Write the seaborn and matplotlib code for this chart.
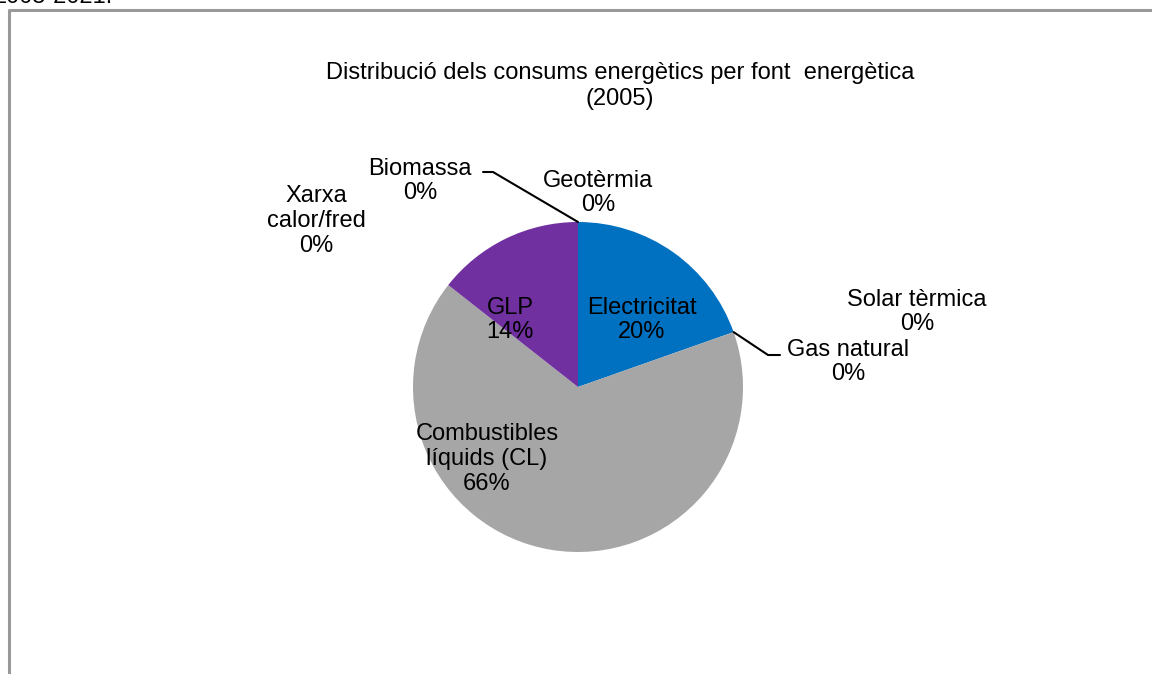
import matplotlib
matplotlib.use("Agg")
import matplotlib.pyplot as plt
import seaborn as sns
import numpy as np

# dades del gràfic (percentatges de consum per font, 2005)
fonts = ["Electricitat", "Gas natural", "Solar tèrmica", "Combustibles\nlíquids (CL)",
         "GLP", "Xarxa\ncalor/fred", "Biomassa", "Geotèrmia"]
valors = [19.6, 0.0, 0.0, 66.0, 14.4, 0.0, 0.0, 0.0]
colors = ["#0070C0", "#C0504D", "#9BBB59", "#A6A6A6", "#7030A0", "#4BACC6", "#F79646", "#2C4D75"]
titol = "Distribució dels consums energètics per font  energètica\n(2005)"
text_superior = "2005-2021."

# posicions de les etiquetes (px, origen a dalt a l'esquerra)
pos_etiquetes = [(642, 320), (848, 362), (917, 312), (487, 459),
                 (510, 320), (316, 221), (420, 181), (598, 193)]

W, H = 1152, 674
cx, cy, r = 578, 387, 165

sns.set_theme(style="white")
plt.rcParams['font.family'] = ['Liberation Sans', 'DejaVu Sans']

fig = plt.figure(figsize=(W / 100, H / 100), dpi=100)
ax = fig.add_axes([0, 0, 1, 1])

ax.pie(valors, colors=colors, startangle=90, counterclock=False,
       center=(cx, H - cy), radius=r, wedgeprops=dict(linewidth=0))

# la funció pie canvia els límits, per això es fixen després
ax.set_xlim(0, W)
ax.set_ylim(0, H)
ax.set_aspect('equal')
ax.axis('off')

total = sum(valors)
for nom, v, (px, py) in zip(fonts, valors, pos_etiquetes):
    ax.text(px, H - py, f"{nom}\n{round(v / total * 100)}%", ha='center', va='center',
            fontsize=17, color='black', linespacing=1.15)

# línies guia per a Gas natural i Biomassa
ang_gas = np.deg2rad(90 - 360 * valors[0] / total)
gx, gy = cx + r * np.cos(ang_gas), (H - cy) + r * np.sin(ang_gas)
ax.plot([gx, 768, 780], [gy, H - 355, H - 355], color='black', lw=1.5)
ax.plot([cx, 493, 483], [H - cy + r, H - 172, H - 172], color='black', lw=1.5)

ax.text(620, H - 86, titol, ha='center', va='center', fontsize=17,
        color='black', linespacing=1.22)

# marc del gràfic
ax.plot([9, 9, W + 5], [-5, H - 10, H - 10], color='#999999', lw=2.2, clip_on=False)
ax.text(-6, H - 3, text_superior, ha='left', va='baseline', fontsize=17, color='black')

fig.savefig("out.png", dpi=100, facecolor='white')
